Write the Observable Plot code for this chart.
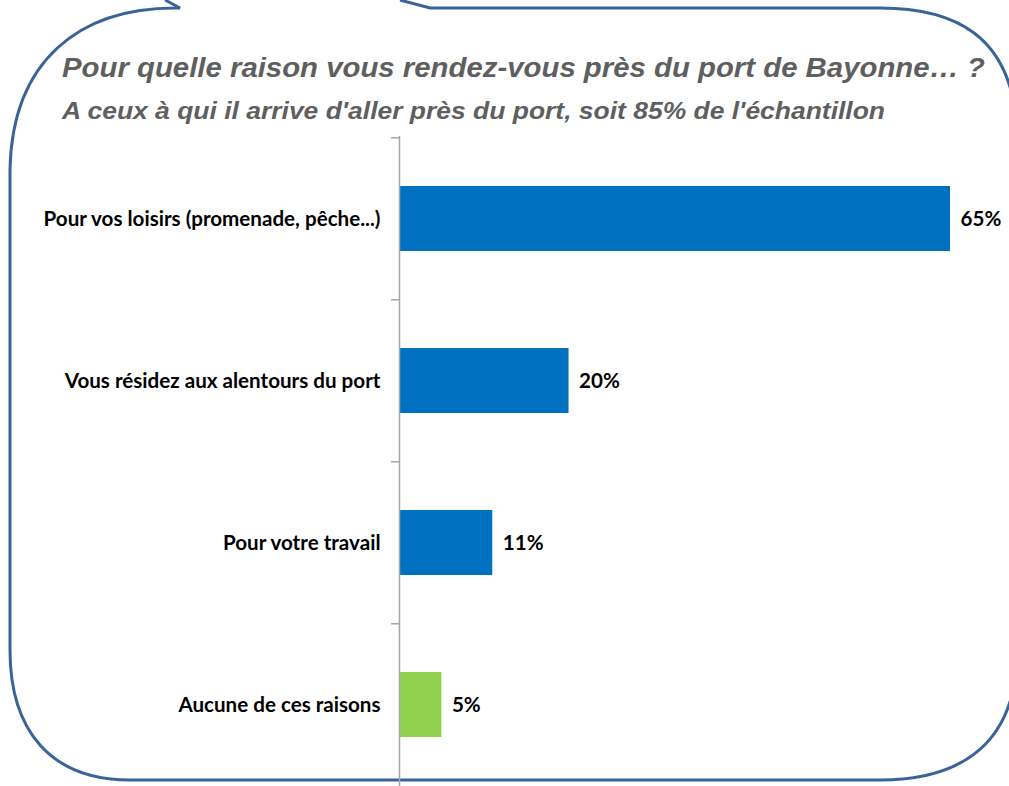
<!DOCTYPE html>
<html>
<head>
<meta charset="utf-8">
<script src="https://cdn.jsdelivr.net/npm/d3@7"></script>
<script src="https://cdn.jsdelivr.net/npm/@observablehq/plot@0.6"></script>
<style>
  html, body { margin: 0; padding: 0; background: #ffffff; }
  #wrap { position: relative; width: 1009px; height: 786px; overflow: hidden; background: #fff; }
  #bubble, #titles, #chart { position: absolute; left: 0; top: 0; }
  .title { font-family: "Liberation Sans", Arial, sans-serif; font-weight: bold; font-style: italic; fill: #5f5f5f; }
</style>
</head>
<body>
<div id="wrap">
  <svg id="bubble" width="1009" height="786">
    <path d="M 165 0 L 180 8 L 175 8 C 80 8, 12 60, 10 170 L 10 650 C 10 730, 50 780, 130 780 L 880 780 C 960 780, 1005 745, 1015 680 L 1015 110 C 1005 40, 960 8, 880 8 L 430 8 L 400 0"
          fill="none" stroke="#3a6399" stroke-width="3"/>
  </svg>
  <div id="chart"></div>
  <svg id="titles" width="1009" height="140">
    <text class="title" x="62" y="77" font-size="27" textLength="923" lengthAdjust="spacingAndGlyphs">Pour quelle raison vous rendez-vous près du port de Bayonne… ?</text>
    <text class="title" x="62" y="119" font-size="24" textLength="823" lengthAdjust="spacingAndGlyphs">A ceux à qui il arrive d'aller près du port, soit 85% de l'échantillon</text>
  </svg>
</div>
<script>
const categories = [
  "Pour vos loisirs (promenade, pêche...)",
  "Vous résidez aux alentours du port",
  "Pour votre travail",
  "Aucune de ces raisons"
];
const values = [65, 20, 11, 5];
const valueLabels = ["65%", "20%", "11%", "5%"];
const barColors = ["#0070C0", "#0070C0", "#0070C0", "#92D050"];

const data = categories.map((c, i) => ({cat: c, value: values[i], label: valueLabels[i], color: barColors[i]}));

const W = 1009, H = 786, mTop = 136, mBottom = 0, mLeft = 399, mRight = 59;
const pInner = 0.6, pOuter = 0.3;
const step = (H - mTop - mBottom) / (categories.length - pInner + 2 * pOuter);
const font = 'Lato, "Liberation Sans", Arial, sans-serif';

const chart = Plot.plot({
  width: W,
  height: H,
  marginTop: mTop,
  marginBottom: mBottom,
  marginLeft: mLeft,
  marginRight: mRight,
  style: {background: "transparent", fontFamily: font},
  x: {domain: [0, 65], axis: null},
  y: {domain: categories, axis: null, paddingInner: pInner, paddingOuter: pOuter},
  marks: [
    Plot.barX(data, {x: "value", y: "cat", fill: "color"}),
    Plot.ruleX([0], {stroke: "#a6a6a6", strokeWidth: 1.5}),
    Plot.ruleY(categories, {y: d => d, x1: 0, x2: 0, insetLeft: -8, dy: -step / 2, stroke: "#a6a6a6", strokeWidth: 1.5}),
    Plot.text(data, {x: 0, y: "cat", text: "cat", textAnchor: "end", dx: -19, fontSize: 20.6, fontWeight: "bold", fill: "#000"}),
    Plot.text(data, {x: "value", y: "cat", text: "label", textAnchor: "start", dx: 10, fontSize: 20.6, fontWeight: "bold", fill: "#000"})
  ]
});
document.getElementById("chart").appendChild(chart);
</script>
</body>
</html>
